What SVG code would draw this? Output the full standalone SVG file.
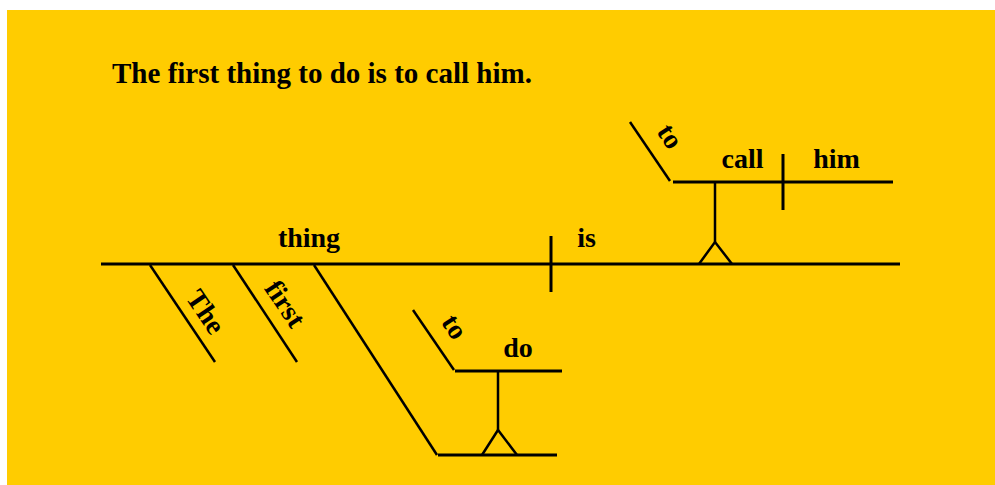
<svg xmlns="http://www.w3.org/2000/svg" width="995" height="485" viewBox="0 0 995 485">
  <style>
    .bg { fill: #FFCC00; }
    .ln { stroke: #000; stroke-width: 3; fill: none; stroke-linecap: butt; }
    .sl { stroke: #000; stroke-width: 2.5; fill: none; }
    .tx { font-family: "Liberation Serif", "Times New Roman", serif; font-weight: bold; font-size: 28px; fill: #000; text-anchor: middle; }
    .title { font-family: "Liberation Serif", "Times New Roman", serif; font-weight: bold; font-size: 29px; fill: #000; }
  </style>
  <rect class="bg" x="7" y="10" width="988" height="475"/>

  <text class="title" x="112" y="83" textLength="420" lengthAdjust="spacingAndGlyphs">The first thing to do is to call him.</text>

  <!-- diagram lines -->
  <g id="connectors">
    <!-- subject / predicate baseline -->
    <line class="ln" x1="101" y1="264" x2="900" y2="264"/>
    <line class="ln" x1="551" y1="236" x2="551" y2="292"/>
    <!-- modifiers of "thing" -->
    <line class="sl" x1="150" y1="265" x2="215" y2="362"/>
    <line class="sl" x1="233" y1="265" x2="297" y2="362"/>
    <!-- infinitive phrase "to do" on stilt -->
    <line class="sl" x1="314" y1="265" x2="437" y2="455"/>
    <line class="ln" x1="438" y1="455" x2="557" y2="455"/>
    <polyline class="sl" points="482,455 498,430 517,455"/>
    <line class="sl" x1="498" y1="371" x2="498" y2="430"/>
    <line class="ln" x1="455" y1="371" x2="562" y2="371"/>
    <line class="sl" x1="413" y1="310" x2="454" y2="370"/>
    <!-- infinitive phrase "to call him" on stilt -->
    <polyline class="sl" points="699,264 715,242 732,264"/>
    <line class="sl" x1="715" y1="182" x2="715" y2="242"/>
    <line class="ln" x1="673" y1="182" x2="893" y2="182"/>
    <line class="ln" x1="783" y1="154" x2="783" y2="210"/>
    <line class="sl" x1="630" y1="122" x2="670" y2="181"/>
  </g>

  <g id="thing"><text class="tx" x="309" y="247">thing</text></g>
  <g id="is"><text class="tx" x="586.5" y="247">is</text></g>
  <g id="the"><text class="tx" transform="translate(198,317) rotate(56)">The</text></g>
  <g id="first"><text class="tx" transform="translate(277.5,309) rotate(56)">first</text></g>
  <g id="to-1"><text class="tx" transform="translate(447,332) rotate(56)">to</text></g>
  <g id="do"><text class="tx" x="518" y="357">do</text></g>
  <g id="to-2"><text class="tx" transform="translate(662.5,141.5) rotate(56)">to</text></g>
  <g id="call"><text class="tx" x="742.5" y="168">call</text></g>
  <g id="him"><text class="tx" x="836.5" y="168">him</text></g>
</svg>
